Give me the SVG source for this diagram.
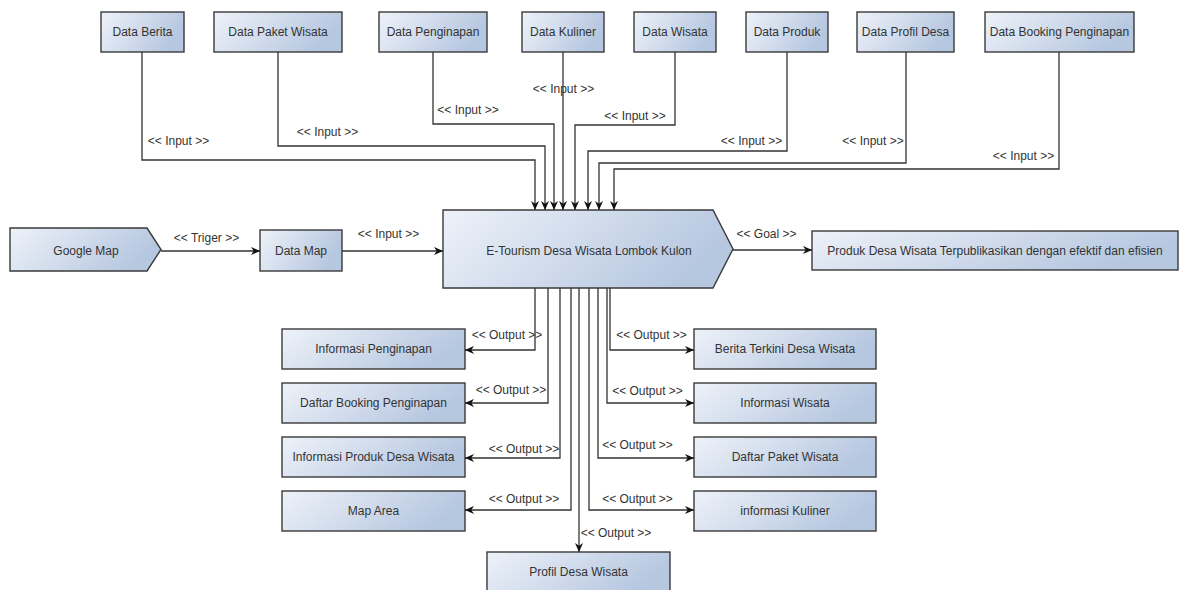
<svg xmlns="http://www.w3.org/2000/svg" width="1184" height="590" viewBox="0 0 1184 590">
<defs>
<linearGradient id="g" x1="0" y1="0" x2="1" y2="0.3">
<stop offset="0" stop-color="#eef2f9"/>
<stop offset="1" stop-color="#b6c7e0"/>
</linearGradient>
<marker id="arr" viewBox="0 0 10 10" refX="10" refY="5" markerWidth="10" markerHeight="9" orient="auto" markerUnits="userSpaceOnUse">
<path d="M0,0.5 L10,5 L0,9.5 L3,5 z" fill="#111"/>
</marker>
<style>
.n{fill:url(#g);stroke:#3a3a3a;stroke-width:1.4}
.t{font-family:"Liberation Sans",Arial,sans-serif;font-size:12px;fill:#333;text-anchor:middle}
.l{font-family:"Liberation Sans",Arial,sans-serif;font-size:12px;fill:#333;text-anchor:middle}
.c{fill:none;stroke:#333;stroke-width:1.3;marker-end:url(#arr)}
</style>
</defs>
<rect width="1184" height="590" fill="#fff"/>

<g id="data-berita"><rect class="n" x="101" y="12" width="83" height="40"/><text class="t" x="142.5" y="36">Data Berita</text></g>
<g id="data-paket-wisata"><rect class="n" x="214" y="12" width="128" height="40"/><text class="t" x="278" y="36">Data Paket Wisata</text></g>
<g id="data-penginapan"><rect class="n" x="379" y="12" width="108" height="40"/><text class="t" x="433" y="36">Data Penginapan</text></g>
<g id="data-kuliner"><rect class="n" x="522" y="12" width="82" height="40"/><text class="t" x="563" y="36">Data Kuliner</text></g>
<g id="data-wisata"><rect class="n" x="634" y="12" width="82" height="40"/><text class="t" x="675" y="36">Data Wisata</text></g>
<g id="data-produk"><rect class="n" x="746" y="12" width="82" height="40"/><text class="t" x="787" y="36">Data Produk</text></g>
<g id="data-profil-desa"><rect class="n" x="857" y="12" width="97" height="40"/><text class="t" x="905.5" y="36">Data Profil Desa</text></g>
<g id="data-booking-penginapan"><rect class="n" x="985" y="12" width="149" height="40"/><text class="t" x="1059.5" y="36">Data Booking Penginapan</text></g>

<g id="google-map"><polygon class="n" points="10,228 147,228 161,249.5 147,271 10,271"/><text class="t" x="86" y="255">Google Map</text></g>
<g id="data-map"><rect class="n" x="260" y="230" width="82" height="41"/><text class="t" x="301" y="255">Data Map</text></g>
<g id="e-tourism"><polygon class="n" points="443,210 713,210 733,249 713,288 443,288"/><text class="t" x="589" y="255">E-Tourism Desa Wisata Lombok Kulon</text></g>
<g id="goal"><rect class="n" x="812" y="231" width="366" height="39"/><text class="t" x="995" y="255">Produk Desa Wisata Terpublikasikan dengan efektif dan efisien</text></g>

<g id="informasi-penginapan"><rect class="n" x="282" y="329" width="183" height="40"/><text class="t" x="373.5" y="353">Informasi Penginapan</text></g>
<g id="daftar-booking-penginapan"><rect class="n" x="282" y="383" width="183" height="40"/><text class="t" x="373.5" y="407">Daftar Booking Penginapan</text></g>
<g id="informasi-produk"><rect class="n" x="282" y="437" width="183" height="40"/><text class="t" x="373.5" y="461">Informasi Produk Desa Wisata</text></g>
<g id="map-area"><rect class="n" x="282" y="491" width="183" height="40"/><text class="t" x="373.5" y="515">Map Area</text></g>
<g id="profil-desa-wisata"><rect class="n" x="487" y="552" width="183" height="42"/><text class="t" x="578.5" y="576">Profil Desa Wisata</text></g>
<g id="berita-terkini"><rect class="n" x="694" y="329" width="182" height="40"/><text class="t" x="785" y="353">Berita Terkini Desa Wisata</text></g>
<g id="informasi-wisata"><rect class="n" x="694" y="383" width="182" height="40"/><text class="t" x="785" y="407">Informasi Wisata</text></g>
<g id="daftar-paket-wisata"><rect class="n" x="694" y="437" width="182" height="40"/><text class="t" x="785" y="461">Daftar Paket Wisata</text></g>
<g id="informasi-kuliner"><rect class="n" x="694" y="491" width="182" height="40"/><text class="t" x="785" y="515">informasi Kuliner</text></g>

<g id="connectors">
<path class="c" d="M142,52 V160 H535 V210"/>
<path class="c" d="M278,52 V146 H545 V210"/>
<path class="c" d="M433,52 V124 H554 V210"/>
<path class="c" d="M563,52 V210"/>
<path class="c" d="M675,52 V125 H575 V210"/>
<path class="c" d="M787,52 V151 H588 V210"/>
<path class="c" d="M906,52 V163 H599 V210"/>
<path class="c" d="M1059,52 V169 H614 V210"/>
<path class="c" d="M161,251 H260"/>
<path class="c" d="M342,251 H443"/>
<path class="c" d="M733,250 H812"/>
<path class="c" d="M535,288 V350 H465"/>
<path class="c" d="M548,288 V403 H465"/>
<path class="c" d="M560,288 V458 H465"/>
<path class="c" d="M571,288 V510 H465"/>
<path class="c" d="M579,288 V552"/>
<path class="c" d="M589,288 V510 H694"/>
<path class="c" d="M598,288 V458 H694"/>
<path class="c" d="M607,288 V403 H694"/>
<path class="c" d="M610,288 V350 H694"/>
<text class="l" x="178.5" y="145">&lt;&lt; Input &gt;&gt;</text>
<text class="l" x="327.5" y="136">&lt;&lt; Input &gt;&gt;</text>
<text class="l" x="468" y="114">&lt;&lt; Input &gt;&gt;</text>
<text class="l" x="563.5" y="93">&lt;&lt; Input &gt;&gt;</text>
<text class="l" x="635" y="120">&lt;&lt; Input &gt;&gt;</text>
<text class="l" x="751.5" y="145">&lt;&lt; Input &gt;&gt;</text>
<text class="l" x="873" y="145">&lt;&lt; Input &gt;&gt;</text>
<text class="l" x="1023.5" y="160">&lt;&lt; Input &gt;&gt;</text>
<text class="l" x="206.5" y="242">&lt;&lt; Triger &gt;&gt;</text>
<text class="l" x="388.5" y="238">&lt;&lt; Input &gt;&gt;</text>
<text class="l" x="766.5" y="238">&lt;&lt; Goal &gt;&gt;</text>
<text class="l" x="507" y="339">&lt;&lt; Output &gt;&gt;</text>
<text class="l" x="511" y="394">&lt;&lt; Output &gt;&gt;</text>
<text class="l" x="524" y="453">&lt;&lt; Output &gt;&gt;</text>
<text class="l" x="524" y="503">&lt;&lt; Output &gt;&gt;</text>
<text class="l" x="616" y="537">&lt;&lt; Output &gt;&gt;</text>
<text class="l" x="651.5" y="339">&lt;&lt; Output &gt;&gt;</text>
<text class="l" x="647.5" y="395">&lt;&lt; Output &gt;&gt;</text>
<text class="l" x="637.5" y="449">&lt;&lt; Output &gt;&gt;</text>
<text class="l" x="637.5" y="503">&lt;&lt; Output &gt;&gt;</text>
</g>
</svg>
